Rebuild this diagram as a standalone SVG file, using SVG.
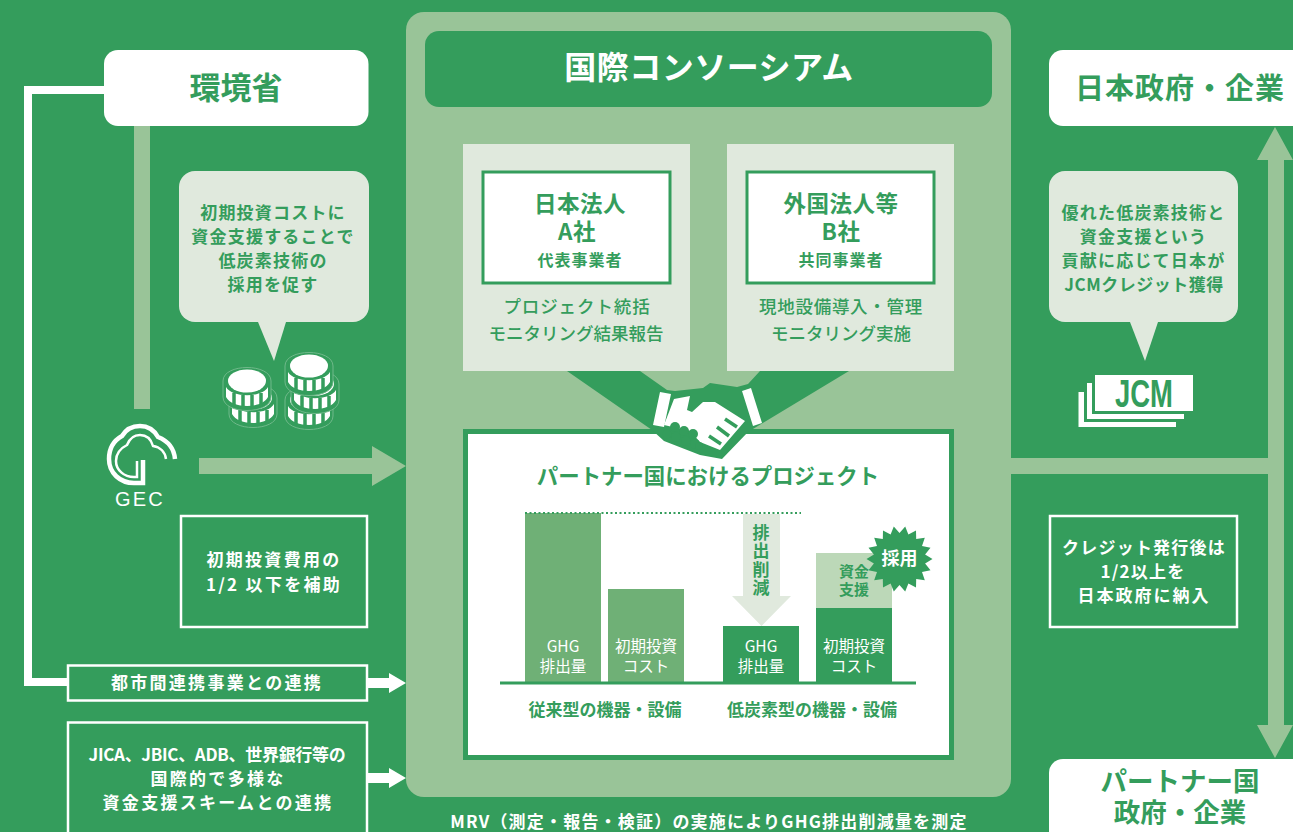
<svg xmlns="http://www.w3.org/2000/svg" width="1293" height="832" viewBox="0 0 1293 832">
<defs>
<style>
text{font-family:"Noto Sans CJK JP","Noto Sans",sans-serif;font-weight:700;text-anchor:middle}
.g{fill:#349d5c}.w{fill:#fff}.l{fill:#99c498}.p{fill:#e0e9dd}.m{fill:#6fb076}.s{fill:#bcd8b8}
.bx{fill:#349d5c;stroke:#fff;stroke-width:2.5}
.cap{font-size:17px;letter-spacing:1.200px}
.box{font-size:17px;letter-spacing:2.300px}
.bar{font-size:15.500px;font-weight:400}
.med{font-size:17.500px;font-weight:500}
.hdr{font-size:22.500px;letter-spacing:.5px}
.sub{font-size:16px;letter-spacing:1px}
.ln{fill:none;stroke-linecap:butt}
</style>
<g id="coin">
<path d="M-24 0C-24 -18 24 -18 24 0V16C24 34 -24 34 -24 16Z" fill="#349d5c" stroke="#6fb98a" stroke-width="1"/>
<ellipse cx="0" cy="0" rx="19" ry="11.500" fill="#fff"/>
<path d="M-21 6C-15 17 15 17 21 6V16C15 28 -15 28 -21 16Z" fill="#fff"/>
<path d="M-13 12v14M-4 14v14M5 14v14M14 12v13" stroke="#349d5c" stroke-width="3.500" fill="none"/>
</g>
</defs>
<rect width="1293" height="832" class="g"/>
<g id="connectors">
<rect x="134" y="125" width="16" height="284" class="l"/>
<path d="M199 458H372V446L406 466L372 486V474H199Z" class="l"/>
<path d="M105 90H28V682H70" fill="none" stroke="#fff" stroke-width="8"/>
<path d="M367 678H389V673L406 683L389 693V688H367Z" class="w"/>
<path d="M367 773H389V768L406 778L389 788V783H367Z" class="w"/>
<rect x="1011" y="458" width="262" height="16" class="l"/>
<path d="M1275 127L1293 160H1284V725H1293L1275 758L1257 725H1268V160H1257Z" class="l"/>
</g>
<g id="moe"><rect x="104" y="50" width="264.500" height="76" rx="14" class="w"/><text x="236" y="99" font-size="31" class="g">環境省</text></g>
<g id="jp-gov"><path d="M1293 50H1063a14 14 0 0 0-14 14V112a14 14 0 0 0 14 14H1293Z" class="w"/><text x="1180" y="99" font-size="29" letter-spacing="1" class="g">日本政府・企業</text></g>
<g id="partner-gov"><path d="M1293 759H1063a14 14 0 0 0-14 14V832H1293Z" class="w"/><text font-size="26.500" class="g"><tspan x="1180" y="791">パートナー国</tspan><tspan x="1180" y="822">政府・企業</tspan></text></g>
<g id="bubble-left"><rect x="179" y="171" width="190" height="151" rx="16" class="p"/><path d="M258 322H286L274 361Z" class="p"/>
<text class="g cap"><tspan x="273" y="219">初期投資コストに</tspan><tspan x="273" y="243">資金支援することで</tspan><tspan x="273" y="267">低炭素技術の</tspan><tspan x="273" y="291">採用を促す</tspan></text></g>
<g id="coins"><use href="#coin" x="253" y="398"/><use href="#coin" x="247" y="381"/>
<use href="#coin" x="309" y="400"/><use href="#coin" x="315" y="384"/><use href="#coin" x="309" y="366"/></g>
<g id="gec">
<path d="M175 459C174 448 168 441 158 437C154 430 148 426 140 426C131 426 125 431 122 436C113 441 109 450 109 459C109 473 120 483 134 483H143V460" fill="none" stroke="#fff" stroke-width="4.500"/>
<path d="M166 459C165 452 160 447 153 446C151 439 146 435 140 435C133 435 129 440 127 445C121 448 116 453 116 461C116 470 124 477 134 477H137V461" fill="none" stroke="#fff" stroke-width="2.500"/>
<text x="140" y="506" font-size="20" letter-spacing="2.200" class="w" style="font-weight:400;font-family:'Liberation Sans',sans-serif">GEC</text></g>
<g id="initial-box"><rect x="181" y="516" width="186" height="111" class="bx"/><text class="w box"><tspan x="274" y="566">初期投資費用の</tspan><tspan x="274" y="591">1/2 以下を補助</tspan></text></g>
<g id="city-box"><rect x="68" y="665.500" width="299" height="35" class="bx"/><text x="217" y="689" class="w box">都市間連携事業との連携</text></g>
<g id="scheme-box"><path d="M68 832V722.500H367V832" class="bx"/><text class="w box"><tspan x="217" y="761" letter-spacing="-.3">JICA、JBIC、ADB、世界銀行等の</tspan><tspan x="218" y="785">国際的で多様な</tspan><tspan x="218" y="809">資金支援スキームとの連携</tspan></text></g>
<g id="consortium">
<rect x="406" y="12" width="605" height="785" rx="18" class="l"/>
<rect x="425" y="31" width="567" height="76" rx="14" class="g"/>
<text x="709" y="79" font-size="32" letter-spacing=".5" class="w">国際コンソーシアム</text>
</g>
<g id="company-a"><rect x="463" y="144" width="227" height="227" class="p"/><rect x="483" y="172" width="187" height="111" fill="#fff" stroke="#349d5c" stroke-width="3"/>
<text class="g hdr"><tspan x="580" y="212">日本法人</tspan><tspan x="577" y="240">A社</tspan></text><text x="580" y="266" class="g sub">代表事業者</text>
<text class="g med"><tspan x="577" y="313" letter-spacing=".9">プロジェクト統括</tspan><tspan x="576" y="340">モニタリング結果報告</tspan></text></g>
<g id="company-b"><rect x="727" y="144" width="227" height="227" class="p"/><rect x="747" y="172" width="187" height="111" fill="#fff" stroke="#349d5c" stroke-width="3"/>
<text class="g hdr"><tspan x="841" y="212">外国法人等</tspan><tspan x="841" y="240">B社</tspan></text><text x="841" y="266" class="g sub">共同事業者</text>
<text class="g med"><tspan x="841" y="313" letter-spacing=".7">現地設備導入・管理</tspan><tspan x="841" y="340">モニタリング実施</tspan></text></g>
<g id="project">
<rect x="465.500" y="431.500" width="486" height="326" class="w" stroke="#349d5c" stroke-width="5"/>
<path d="M567 371H640L667 390L675 391L703 388L710 383L737 387L748 384L760 371H849L748 432L722 459L700 455L664 441L652 430Z" class="g"/>
<path d="M660 392L671 394L664 427L653 425ZM742 391L751 388L762 423L753 426Z" class="w"/>
<path d="M674 399L690 396L687 410L692 412L703 402L715 402L745 421L720 450L700 442L690 431L664 425Z" class="w"/>
<path d="M725 419L737 427M717 427L729 436M709 436L721 444" stroke="#349d5c" stroke-width="3.500" fill="none"/>
<g class="g"><circle cx="667" cy="434" r="4.500"/><circle cx="675" cy="427" r="5"/><circle cx="676" cy="437" r="5"/><circle cx="684" cy="431" r="5"/><circle cx="686" cy="441" r="5"/><circle cx="693" cy="434" r="5"/><circle cx="695" cy="444" r="5"/><circle cx="699" cy="446" r="4"/></g>
<text x="708" y="484" font-size="21.400" class="g">パートナー国におけるプロジェクト</text>
<rect x="525" y="513" width="76" height="170" class="m"/><rect x="608" y="589" width="76" height="94" class="m"/>
<path d="M743 514H780V596H791L761.500 626L732 596H743Z" class="p"/>
<rect x="723" y="626" width="76" height="57" class="g"/><rect x="816" y="608" width="76" height="75" class="g"/><rect x="816" y="553" width="76" height="55" class="s"/>
<path d="M525 513H801" stroke="#349d5c" stroke-width="2" stroke-dasharray="2 2.500" fill="none"/>
<path d="M500 683H916" stroke="#349d5c" stroke-width="3"/>
<polygon transform="translate(899.500 559)" points="33,0 25.600,4.500 31,11.300 22.500,13 25.300,21.200 16.700,19.900 16.500,28.600 8.900,24.400 5.700,32.500 0,26 -5.700,32.500 -8.900,24.400 -16.500,28.600 -16.700,19.900 -25.300,21.200 -22.500,13 -31,11.300 -25.600,4.500 -33,0 -25.600,-4.500 -31,-11.300 -22.500,-13 -25.300,-21.200 -16.700,-19.900 -16.500,-28.600 -8.900,-24.400 -5.700,-32.500 0,-26 5.700,-32.500 8.900,-24.400 16.500,-28.600 16.700,-19.900 25.300,-21.200 22.500,-13 31,-11.300 25.600,-4.500" class="g"/>
<text class="w bar"><tspan x="563" y="652">GHG</tspan><tspan x="563" y="672">排出量</tspan></text>
<text class="w bar"><tspan x="646" y="652">初期投資</tspan><tspan x="646" y="672">コスト</tspan></text>
<text class="w bar"><tspan x="761" y="652">GHG</tspan><tspan x="761" y="672">排出量</tspan></text>
<text class="w bar"><tspan x="854" y="652">初期投資</tspan><tspan x="854" y="672">コスト</tspan></text>
<text class="g" font-size="15"><tspan x="854" y="577">資金</tspan><tspan x="854" y="595">支援</tspan></text>
<text x="899.500" y="565" class="w" font-size="18">採用</text>
<text x="761" y="524" class="g" font-size="17" letter-spacing="1.300" style="writing-mode:vertical-rl;text-anchor:start">排出削減</text>
<text x="605" y="716" class="g" font-size="17">従来型の機器・設備</text><text x="812" y="716" class="g" font-size="17">低炭素型の機器・設備</text>
</g>
<g id="bubble-right"><rect x="1049" y="171" width="189" height="151" rx="16" class="p"/><path d="M1130 322H1158L1145 361Z" class="p"/>
<text class="g cap"><tspan x="1143.500" y="219">優れた低炭素技術と</tspan><tspan x="1143.500" y="243">資金支援という</tspan><tspan x="1143.500" y="267">貢献に応じて日本が</tspan><tspan x="1144" y="291" letter-spacing=".5">JCMクレジット獲得</tspan></text></g>
<g id="jcm"><rect x="1078.500" y="392" width="97.500" height="35" class="w"/><rect x="1084" y="391" width="100" height="31" class="g"/><rect x="1087" y="383" width="97" height="36" class="w"/><rect x="1092" y="382" width="100" height="32" class="g"/><rect x="1095" y="375" width="98" height="36" class="w"/><text x="1144" y="406.500" class="g" font-size="38" style="font-family:'Liberation Sans Narrow','Liberation Sans',sans-serif" textLength="58" lengthAdjust="spacingAndGlyphs">JCM</text></g>
<g id="credit-box"><rect x="1050" y="516" width="187" height="111" class="bx"/><text class="w cap"><tspan x="1144" y="554">クレジット発行後は</tspan><tspan x="1143" y="578">1/2以上を</tspan><tspan x="1144" y="602" letter-spacing="2">日本政府に納入</tspan></text></g>
<text x="709" y="828" class="w" font-size="17" letter-spacing="1.200">MRV（測定・報告・検証）の実施によりGHG排出削減量を測定</text>
</svg>
